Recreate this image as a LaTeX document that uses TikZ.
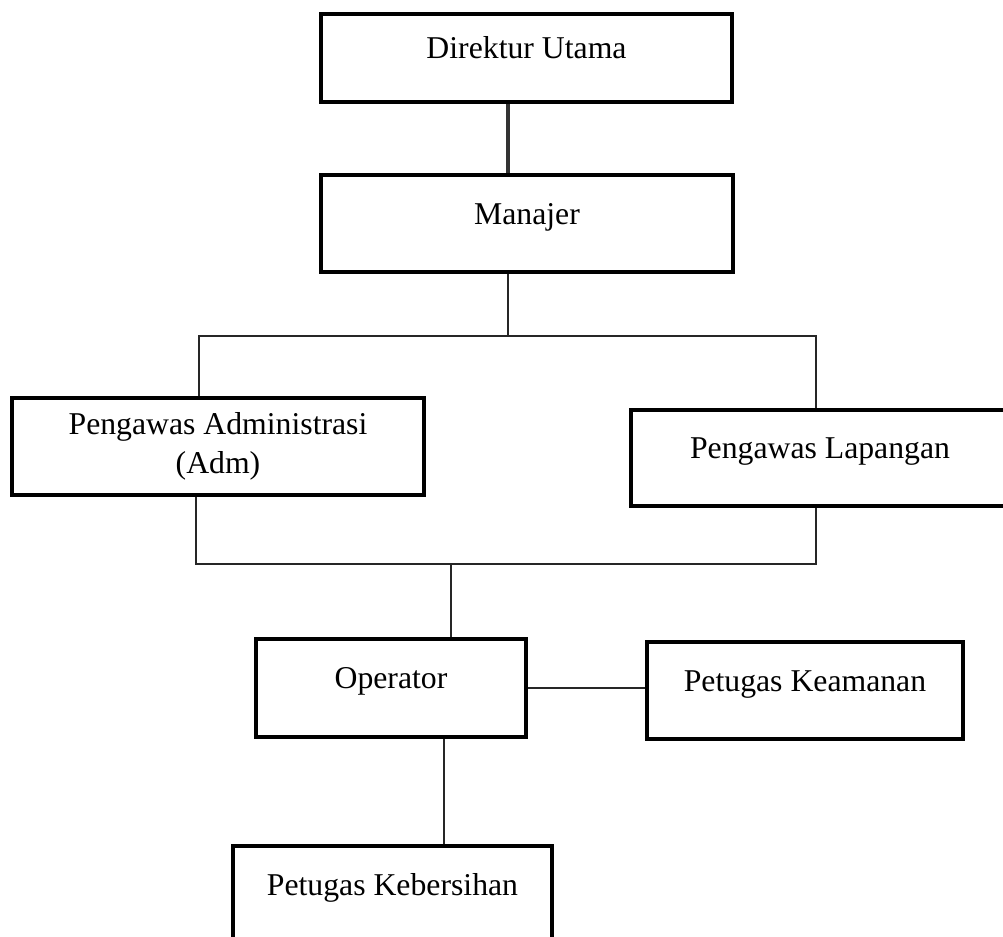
\documentclass[tikz,border=0pt]{standalone}
\usepackage{fontspec}
\setmainfont{Liberation Serif}

\begin{document}
\begin{tikzpicture}[
  x=0.75pt,y=-0.75pt,
  jabatan/.style 2 args={draw=black,line width=3pt,minimum width=#1*0.75pt,minimum height=#2*0.75pt,
    inner sep=0pt,align=center,font=\fontsize{23.8}{29.3}\selectfont},
  naik/.style={text height=17pt,text depth=16pt},
  garis/.style={draw=black!85,line width=0.8pt},
  garistebal/.style={draw=black!80,line width=2.6pt}
]
  \path[use as bounding box,clip] (0,0) rectangle (1003,937);

  \node[jabatan={411}{88},naik] (dirut) at (526.5,58) {Direktur Utama};
  \node[jabatan={412}{97},naik] (manajer) at (527,223.5) {Manajer};
  \node[jabatan={412}{97}] (adm) at (218,446.5) {Pengawas Administrasi\\(Adm)};
  \node[jabatan={378}{96},naik] (lapangan) at (820,458) {Pengawas Lapangan};
  \node[jabatan={270}{98},naik] (operator) at (391,688) {Operator};
  \node[jabatan={316}{97},naik] (keamanan) at (805,690.5) {Petugas Keamanan};
  \node[jabatan={319}{97},naik] (kebersihan) at (392.5,894.5) {Petugas Kebersihan};

  \coordinate (dirman) at (508,140);
  \coordinate (busatas) at (508,336);
  \coordinate (kiriatas) at (199,336);
  \coordinate (kananatas) at (816,336);
  \coordinate (kiribawah) at (196,564);
  \coordinate (kananbawah) at (816,564);
  \coordinate (tengahbawah) at (451,564);
  \coordinate (opkeb) at (444,790);

  \draw[garistebal] (dirut.south -| dirman) -- (manajer.north -| dirman);
  \draw[garis] (manajer.south -| busatas) -- (busatas);
  \draw[garis] (adm.north -| kiriatas) |- (kananatas) -- (lapangan.north -| kananatas);
  \draw[garis] (adm.south -| kiribawah) |- (kananbawah) -- (lapangan.south -| kananbawah);
  \draw[garis] (tengahbawah) -- (operator.north -| tengahbawah);
  \draw[garis] (operator.east) -- (operator.east -| keamanan.west);
  \draw[garis] (operator.south -| opkeb) -- (kebersihan.north -| opkeb);
\end{tikzpicture}
\end{document}
